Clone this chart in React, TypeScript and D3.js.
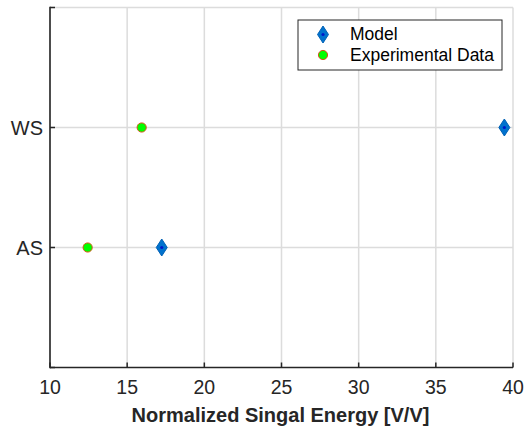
import React from "react";
import * as d3 from "d3";

const categories = ["AS", "WS"];
const modelValues = [17.24, 39.44];
const experimentalValues = [12.44, 15.94];
const xTicks = [10, 15, 20, 25, 30, 35, 40];
const seriesNames = ["Model", "Experimental Data"];

const W = 524;
const H = 428;
const left = 50;
const right = 513;
const top = 7.5;
const bottom = 367.5;

const x = d3.scaleLinear().domain([10, 40]).range([left, right]);
const y = d3.scaleLinear().domain([0, 3]).range([bottom, top]);

const font = "'Liberation Sans', Arial, Helvetica, sans-serif";
const ink = "#262626";
const gridColor = "#dcdcdc";

function Diamond({ cx, cy }: { cx: number; cy: number }) {
  const p = d3.path();
  p.moveTo(cx, cy - 8.5);
  p.lineTo(cx + 5.5, cy);
  p.lineTo(cx, cy + 8.5);
  p.lineTo(cx - 5.5, cy);
  p.closePath();
  return (
    <g>
      <path d={p.toString()} fill="#0072CE" stroke="#0060B4" strokeWidth={1} />
      <circle cx={cx} cy={cy} r={1.6} fill="#0018C8" />
    </g>
  );
}

function Dot({ cx, cy }: { cx: number; cy: number }) {
  return <circle cx={cx} cy={cy} r={4.6} fill="#00FF00" stroke="#D95319" strokeWidth={1} />;
}

export default function App() {
  const yTickVals = categories.map((_, i) => i + 1);
  return (
    <svg
      width={W}
      height={H}
      style={{ position: "absolute", left: 0, top: 0, background: "#fff" }}
      fontFamily={font}
    >
      <rect x={0} y={0} width={W} height={H} fill="#fff" />
      {/* grid */}
      {xTicks.map((t) => (
        <line key={"gx" + t} x1={x(t)} x2={x(t)} y1={top} y2={bottom} stroke={gridColor} strokeWidth={1.5} />
      ))}
      {yTickVals.map((t) => (
        <line key={"gy" + t} x1={left} x2={right} y1={y(t)} y2={y(t)} stroke={gridColor} strokeWidth={1.5} />
      ))}
      <line x1={left} x2={right} y1={top} y2={top} stroke={gridColor} strokeWidth={1.5} />
      {/* axes */}
      <line x1={left} x2={left} y1={top - 0.75} y2={bottom + 0.75} stroke={ink} strokeWidth={1.6} />
      <line x1={left} x2={right} y1={bottom} y2={bottom} stroke={ink} strokeWidth={1.6} />
      {xTicks.map((t) => (
        <g key={"xt" + t}>
          <line x1={x(t)} x2={x(t)} y1={bottom} y2={bottom - 5} stroke={ink} strokeWidth={1.5} />
          <text x={x(t)} y={394} textAnchor="middle" fontSize={19.5} fill={ink}>
            {t}
          </text>
        </g>
      ))}
      {[0, ...yTickVals, 3].map((t) => (
        <line key={"yt" + t} x1={left} x2={left + 5} y1={y(t)} y2={y(t)} stroke={ink} strokeWidth={1.5} />
      ))}
      {categories.map((c, i) => (
        <text key={"yl" + c} x={43} y={y(i + 1) + 7} textAnchor="end" fontSize={20} fill={ink}>
          {c}
        </text>
      ))}
      <text x={280.5} y={422} textAnchor="middle" fontSize={20} fontWeight="bold" fill={ink}>
        Normalized Singal Energy [V/V]
      </text>
      {/* data */}
      {experimentalValues.map((v, i) => (
        <Dot key={"e" + i} cx={x(v)} cy={y(i + 1)} />
      ))}
      {modelValues.map((v, i) => (
        <Diamond key={"m" + i} cx={x(v)} cy={y(i + 1)} />
      ))}
      {/* legend */}
      <rect x={298} y={20} width={204} height={50} fill="#fff" stroke={ink} strokeWidth={1} />
      <Diamond cx={323} cy={34.5} />
      <Dot cx={323} cy={55} />
      <text x={350} y={40} fontSize={17.5} fill="#000">
        {seriesNames[0]}
      </text>
      <text x={350} y={60.5} fontSize={17.5} fill="#000">
        {seriesNames[1]}
      </text>
    </svg>
  );
}
